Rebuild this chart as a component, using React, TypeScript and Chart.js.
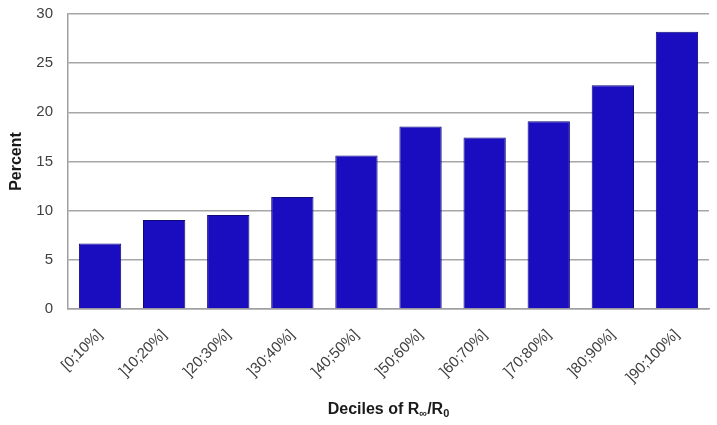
import React, { useEffect, useRef } from "react";
import { Chart, registerables } from "chart.js";

Chart.register(...registerables);

const categories = ["[0;10%]", "]10;20%]", "]20;30%]", "]30;40%]", "]40;50%]", "]50;60%]", "]60;70%]", "]70;80%]", "]80;90%]", "]90;100%]"];
const percentValues = [6.65, 9.05, 9.55, 11.4, 15.6, 18.55, 17.45, 19.1, 22.75, 28.2];
const yTicks = [0, 5, 10, 15, 20, 25, 30];
const yTitle = "Percent";
const xTitleParts = [
  { text: "Deciles of R", sub: false },
  { text: "∞", sub: true },
  { text: "/R", sub: false },
  { text: "0", sub: true },
];

const FONT = "'Liberation Sans', Arial, sans-serif";

const xTitlePlugin = {
  id: "xTitleSub",
  afterDraw(chart: any) {
    const ctx = chart.ctx;
    const ca = chart.chartArea;
    ctx.save();
    ctx.fillStyle = "#1a1a1a";
    ctx.textBaseline = "alphabetic";
    const big = `bold 16px ${FONT}`;
    const small = `bold 11px ${FONT}`;
    let total = 0;
    for (const p of xTitleParts) {
      ctx.font = p.sub ? small : big;
      total += ctx.measureText(p.text).width;
    }
    let x = (ca.left + ca.right) / 2 - total / 2;
    const y = 414;
    for (const p of xTitleParts) {
      ctx.font = p.sub ? small : big;
      ctx.textAlign = "left";
      ctx.fillText(p.text, x, p.sub ? y + 3 : y);
      x += ctx.measureText(p.text).width;
    }
    ctx.restore();
  },
};

export default function App() {
  const ref = useRef<HTMLCanvasElement>(null);
  useEffect(() => {
    if (!ref.current) return;
    const chart = new Chart(ref.current, {
      type: "bar",
      data: {
        labels: categories,
        datasets: [
          {
            data: percentValues,
            backgroundColor: "#1a0dbf",
            borderColor: "#0e0878",
            borderWidth: 1,
            categoryPercentage: 1,
            barPercentage: 0.66,
          },
        ],
      },
      options: {
        responsive: false,
        animation: false,
        layout: { padding: { top: 14, right: 8, left: 0, bottom: 0 } },
        plugins: { legend: { display: false }, tooltip: { enabled: false } },
        scales: {
          x: {
            grid: { display: false, drawTicks: false },
            border: { display: true, color: "#a0a0a0", width: 1.5 },
            ticks: {
              color: "#404040",
              font: { family: FONT, size: 15 },
              maxRotation: 45,
              minRotation: 45,
              padding: 17,
              autoSkip: false,
            },
            afterFit(scale: any) {
              scale.height = 116;
              scale.paddingLeft = 0;
              scale.paddingRight = 0;
            },
          },
          y: {
            min: 0,
            max: 30,
            afterBuildTicks(scale: any) {
              scale.ticks = yTicks.map((v) => ({ value: v }));
            },
            grid: { color: "#a6a6a6", lineWidth: 1.5, drawTicks: false },
            border: { display: true, color: "#a0a0a0", width: 1.5 },
            ticks: {
              color: "#404040",
              font: { family: FONT, size: 15 },
              padding: 15,
            },
            title: {
              display: true,
              text: yTitle,
              color: "#1a1a1a",
              font: { family: FONT, size: 16, weight: "bold" },
              padding: { top: 7, bottom: 0 },
            },
            afterFit(scale: any) {
              scale.width = 68;
              scale.paddingTop = 0;
              scale.paddingBottom = 0;
            },
          },
        },
      },
      plugins: [xTitlePlugin],
    });
    return () => chart.destroy();
  }, []);
  return (
    <div style={{ position: "fixed", left: 0, top: 0, width: 717, height: 425, background: "#fff" }}>
      <canvas ref={ref} width={717} height={425} style={{ display: "block", width: 717, height: 425 }} />
    </div>
  );
}
